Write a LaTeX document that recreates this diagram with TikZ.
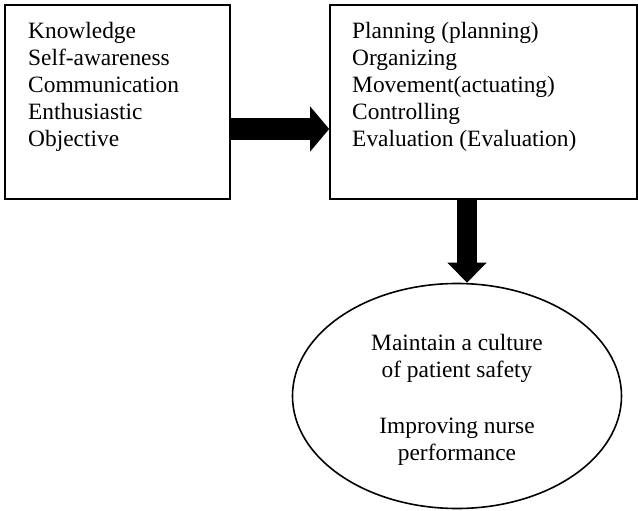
\documentclass[tikz,border=0pt]{standalone}
\usepackage{fontspec}
\setmainfont{Liberation Serif}
\usetikzlibrary{calc,arrows.meta,shapes.geometric}

\tikzset{
  box/.style={draw, line width=1.6pt, rectangle, inner sep=0pt},
  listtext/.style={anchor=north west, align=left, inner sep=0pt,
    font=\fontsize{23.4}{26.8}\selectfont},
  blockarrow/.style={line width=#1, -{Triangle[length=19pt, width=44pt]}},
}

\begin{document}
\begin{tikzpicture}[x=1pt, y=-1pt]
				\useasboundingbox (0,0) rectangle (638,511);
				
				% boxes
				\node[box, minimum width=225pt, minimum height=194pt] (skills) at (117.5,102) {};
				\node[box, minimum width=307pt, minimum height=194pt] (steps) at (483.5,102) {};
				
				\node[listtext] (skillslist) at (28,22.5) {Knowledge\\Self-awareness\\Communication\\Enthusiastic\\Objective};
				\node[listtext] (stepslist) at (352,22.5) {Planning (planning)\\Organizing\\Movement(actuating)\\Controlling\\Evaluation (Evaluation)};
				
				% outcome
				\node[draw, ellipse, line width=1.6pt, minimum width=329pt, minimum height=225pt] (outcome) at (457,396) {};
				\node[align=center, inner sep=0pt, font=\fontsize{23.4}{27}\selectfont] (outcometext) at ($(outcome.center)+(0,4)$)
				  {Maintain a culture\\of patient safety\\[29pt]Improving nurse\\performance};
				
				% arrows
				\coordinate (drop) at ($(steps.south)+(-16.5,0)$);
				\draw[blockarrow=22pt] ($(skills.east)+(0,27)$) -- ($(steps.west)+(0,27)$);
				\draw[blockarrow=20pt, -{Triangle[length=20pt, width=38pt]}] (drop) -- (drop |- outcome.north);
			\end{tikzpicture}
\end{document}
